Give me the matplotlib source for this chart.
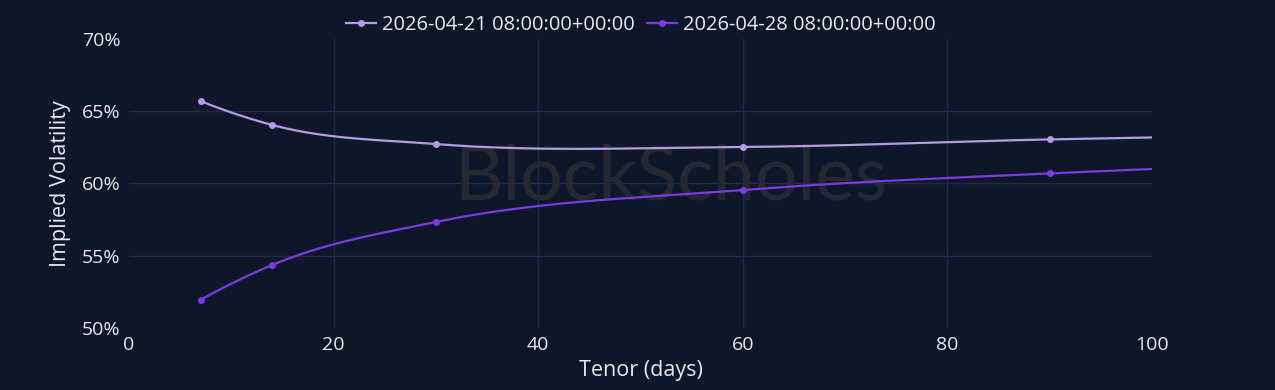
import numpy as np
import matplotlib
matplotlib.use("Agg")
import matplotlib.pyplot as plt

# ---- data ----
tenor_days = [7, 14, 30, 60, 90, 180]
iv_0421 = [65.7, 64.05, 62.73, 62.53, 63.05, 63.6]
iv_0428 = [51.95, 54.36, 57.34, 59.55, 60.70, 62.0]
series_labels = ["2026-04-21 08:00:00+00:00", "2026-04-28 08:00:00+00:00"]
x_ticks = [0, 20, 40, 60, 80, 100]
y_ticks = [50, 55, 60, 65, 70]

BG = "#0e172a"
GRID = "#1f2b48"
C1 = "#b59ae6"
C2 = "#7a3be0"
TXT = "#e8e8ee"


def smooth(x, y, n=600):
    """Cubic Hermite spline through the points (weighted slopes)."""
    x = np.asarray(x, float)
    y = np.asarray(y, float)
    d = np.diff(y) / np.diff(x)
    h = np.diff(x)
    m = np.zeros_like(y)
    for i in range(1, len(x) - 1):
        m[i] = (d[i - 1] * h[i] + d[i] * h[i - 1]) / (h[i - 1] + h[i])
    m[0] = 2 * d[0] - m[1]
    m[-1] = 2 * d[-1] - m[-2]
    xs, ys = [], []
    for i in range(len(x) - 1):
        t = np.linspace(0, 1, n // (len(x) - 1))
        h00 = 2 * t**3 - 3 * t**2 + 1
        h10 = t**3 - 2 * t**2 + t
        h01 = -2 * t**3 + 3 * t**2
        h11 = t**3 - t**2
        xs.append(x[i] + t * h[i])
        ys.append(h00 * y[i] + h10 * h[i] * m[i] + h01 * y[i + 1] + h11 * h[i] * m[i + 1])
    return np.concatenate(xs), np.concatenate(ys)


plt.rcParams["font.family"] = ["Open Sans", "DejaVu Sans"]
fig = plt.figure(figsize=(12.75, 3.9), dpi=100, facecolor=BG)
ax = fig.add_axes([0.1012, 0.159, 0.8023, 0.741], facecolor=BG)

for vals, col, lab in [(iv_0421, C1, series_labels[0]), (iv_0428, C2, series_labels[1])]:
    sx, sy = smooth(tenor_days, vals)
    ax.plot(sx, sy, color=col, lw=1.6, zorder=3, solid_capstyle="round")
    ax.plot(tenor_days, vals, "o", color=col, ms=4, zorder=4, clip_on=True)
    ax.plot([], [], "-o", color=col, lw=1.6, ms=4, label=lab)

ax.set_xlim(0, 100)
ax.set_ylim(50, 70)
ax.set_xticks(x_ticks)
ax.set_yticks(y_ticks)
ax.set_yticklabels([f"{v}%" for v in y_ticks])
for xv in x_ticks[1:-1]:
    ax.axvline(xv, color=GRID, lw=1, zorder=0)
for yv in y_ticks[1:-1]:
    ax.axhline(yv, color=GRID, lw=1, zorder=0)
for s in ax.spines.values():
    s.set_visible(False)
ax.tick_params(colors=TXT, labelsize=14, length=0, pad=6)
ax.tick_params(axis="x", pad=6)

ax.set_xlabel("Tenor (days)", color=TXT, fontsize=15.5, labelpad=4)
ax.set_ylabel("Implied Volatility", color=TXT, fontsize=15.5, labelpad=8)

ax.text(0.53, 0.52, "BlockScholes", transform=ax.transAxes, ha="center", va="center",
        fontsize=54, color="#262831", zorder=1, family=["Lato", "DejaVu Sans"])

leg = ax.legend(loc="lower center", bbox_to_anchor=(0.5, 0.985), ncol=2, frameon=False,
                fontsize=14.5, handlelength=1.5, columnspacing=0.6, handletextpad=0.3,
                borderaxespad=0)
for t in leg.get_texts():
    t.set_color(TXT)

fig.savefig("out.png", dpi=100, facecolor=BG)
